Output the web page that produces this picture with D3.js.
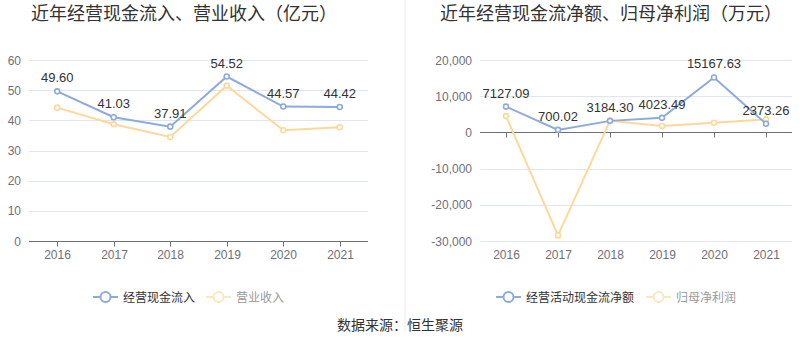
<!DOCTYPE html>
<html>
<head>
<meta charset="UTF-8">
<title>经营现金流</title>
<style>
body { margin: 0; background: #fff; }
text { font-family: "Liberation Sans", "Noto Sans CJK SC", sans-serif; }
</style>
</head>
<body>
<svg width="800" height="358"></svg>
<script src="https://d3js.org/d3.v7.min.js"></script>
<script>
// data
var years = ["2016", "2017", "2018", "2019", "2020", "2021"];
var cashIn = [49.60, 41.03, 37.91, 54.52, 44.57, 44.42];      // 经营现金流入 (亿元)
var revenue = [44.2, 38.7, 34.5, 51.5, 36.7, 37.7];           // 营业收入 (亿元)
var netCash = [7127.09, 700.02, 3184.30, 4023.49, 15167.63, 2373.26]; // 经营活动现金流净额 (万元)
var netProfit = [4500, -28450, 3230, 1750, 2680, 3600];       // 归母净利润 (万元)
var leftTicks = [0, 10, 20, 30, 40, 50, 60];
var rightTicks = [-30000, -20000, -10000, 0, 10000, 20000];

var blue = "#8caadd", orange = "#ffd899";
var svg = d3.select("svg");

// divider
svg.append("line").attr("x1", 405).attr("x2", 405).attr("y1", 0).attr("y2", 332)
  .attr("stroke", "#eeeeee").attr("stroke-width", 1);

function drawChart(opt) {
  var g = svg.append("g");
  var x = d3.scaleBand().domain(years).range([opt.x0, opt.x1]);
  var y = d3.scaleLinear().domain(opt.domain).range([opt.yBottom, opt.yTop]);

  // title
  g.append("text").attr("x", opt.titleX).attr("y", 20).attr("text-anchor", "middle")
    .attr("font-size", 18).attr("fill", "#333").text(opt.title);

  // grid + tick labels
  opt.ticks.forEach(function(t) {
    g.append("line").attr("x1", opt.x0).attr("x2", opt.x1)
      .attr("y1", Math.round(y(t)) + 0.5).attr("y2", Math.round(y(t)) + 0.5)
      .attr("stroke", t === 0 ? "#6e7079" : "#e0e6f1").attr("stroke-width", 1);
    g.append("text").attr("x", opt.x0 - 8).attr("y", y(t) + 4.5).attr("text-anchor", "end")
      .attr("font-size", 12).attr("fill", "#6e7079").text(opt.fmt(t));
  });

  // x ticks & labels
  var zeroY = Math.round(y(0)) + 0.5;
  years.forEach(function(yr) {
    var cx = Math.round(x(yr) + x.bandwidth() / 2) + 0.5;
    g.append("line").attr("x1", cx).attr("x2", cx).attr("y1", zeroY).attr("y2", zeroY + 5)
      .attr("stroke", "#6e7079");
    g.append("text").attr("x", cx).attr("y", opt.yBottom + 18).attr("text-anchor", "middle")
      .attr("font-size", 12).attr("fill", "#6e7079").text(yr);
  });

  function series(vals, color) {
    var line = d3.line()
      .x(function(d, i) { return x(years[i]) + x.bandwidth() / 2; })
      .y(function(d) { return y(d); });
    g.append("path").datum(vals).attr("d", line).attr("fill", "none")
      .attr("stroke", color).attr("stroke-width", 2);
    g.selectAll(null).data(vals).enter().append("circle")
      .attr("cx", function(d, i) { return x(years[i]) + x.bandwidth() / 2; })
      .attr("cy", function(d) { return y(d); })
      .attr("r", 2.5).attr("fill", "#fff").attr("stroke", color).attr("stroke-width", 1.6);
  }
  series(opt.s2, orange);
  series(opt.s1, blue);

  // data labels for primary series
  g.selectAll(null).data(opt.s1).enter().append("text")
    .attr("x", function(d, i) { return x(years[i]) + x.bandwidth() / 2; })
    .attr("y", function(d) { return y(d) - 9; })
    .attr("text-anchor", "middle").attr("font-size", 13).attr("fill", "#333")
    .text(function(d) { return d.toFixed(2); });

  // legend
  var lg = g.append("g").attr("transform", "translate(" + opt.legendX + ",297)");
  [[opt.names[0], blue, "#333"], [opt.names[1], "#fde6c0", "#999"]].forEach(function(it, k) {
    var ox = k === 0 ? 0 : opt.legendGap;
    lg.append("line").attr("x1", ox).attr("x2", ox + 25).attr("y1", 0).attr("y2", 0)
      .attr("stroke", it[1]).attr("stroke-width", 2);
    lg.append("circle").attr("cx", ox + 12.5).attr("cy", 0).attr("r", 5)
      .attr("fill", "#fff").attr("stroke", it[1]).attr("stroke-width", 2);
    lg.append("text").attr("x", ox + 30).attr("y", 4.5).attr("font-size", 12)
      .attr("fill", it[2]).text(it[0]);
  });
}

drawChart({
  title: "近年经营现金流入、营业收入（亿元）", titleX: 184,
  x0: 29, x1: 368, yTop: 60, yBottom: 241, domain: [0, 60], ticks: leftTicks,
  fmt: function(t) { return String(t); },
  s1: cashIn, s2: revenue, names: ["经营现金流入", "营业收入"],
  legendX: 93, legendGap: 113
});

var commaFmt = d3.format(",");
drawChart({
  title: "近年经营现金流净额、归母净利润（万元）", titleX: 611,
  x0: 480, x1: 792, yTop: 60, yBottom: 241, domain: [-30000, 20000], ticks: rightTicks,
  fmt: function(t) { return commaFmt(t).replace("\u2212", "-"); },
  s1: netCash, s2: netProfit, names: ["经营活动现金流净额", "归母净利润"],
  legendX: 496, legendGap: 150
});

svg.append("text").attr("x", 400).attr("y", 330).attr("text-anchor", "middle")
  .attr("font-size", 14).attr("fill", "#333").text("数据来源：恒生聚源");
</script>
</body>
</html>
